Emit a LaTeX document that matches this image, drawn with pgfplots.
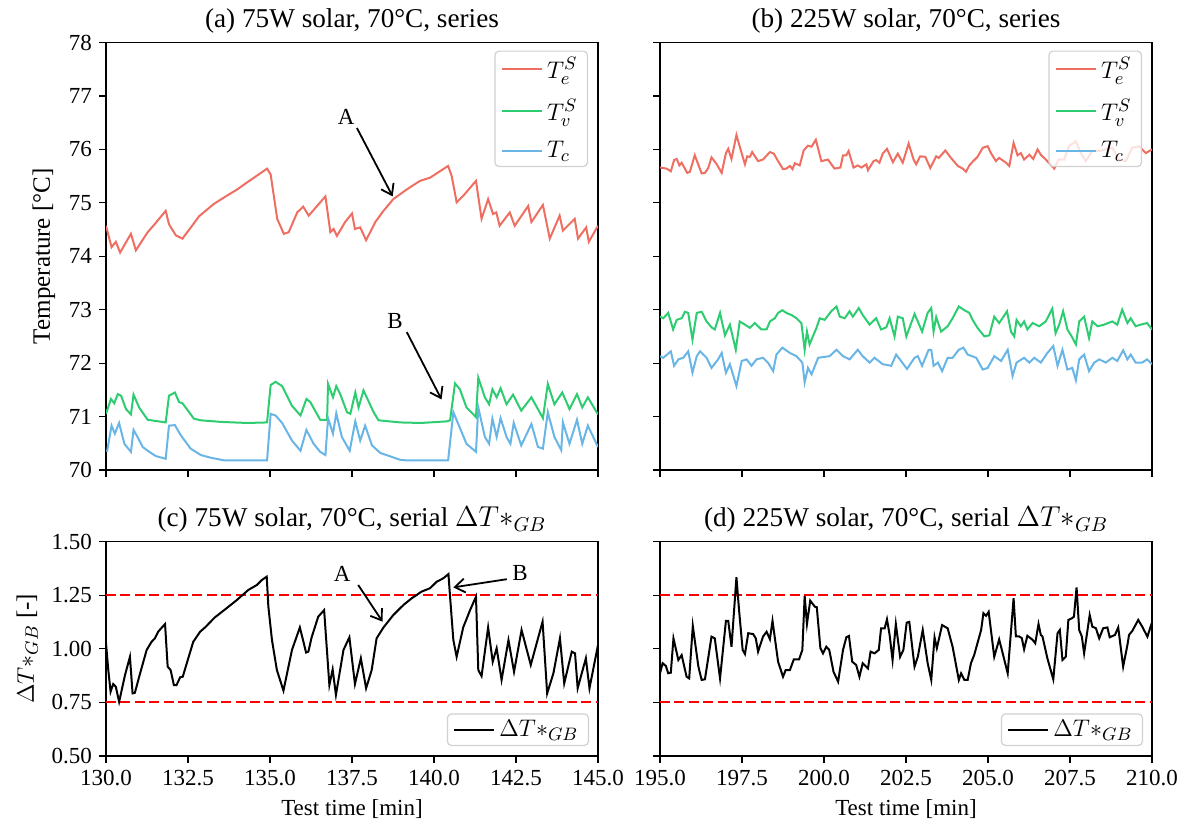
\documentclass[border=0pt]{standalone}
\usepackage{fontspec}
\setmainfont{Liberation Serif}
\usepackage{pgfplots}
\pgfplotsset{compat=1.18}
\usetikzlibrary{arrows.meta}

\definecolor{cTe}{HTML}{EE6F62}
\definecolor{cTv}{HTML}{2ECC71}
\definecolor{cTc}{HTML}{68B5E6}

\newcommand{\tfont}{\fontsize{11.5}{13}\selectfont}
\newcommand{\lfont}{\fontsize{12.5}{14}\selectfont}
\newcommand{\hfont}{\fontsize{13.6}{16}\selectfont}

\pgfplotsset{
 base/.style={scale only axis, width=246pt, tick align=outside, tick pos=left,
   major tick length=3.5pt, axis line style={line width=0.6pt},
   every tick/.style={black, line width=0.6pt},
   tick label style={font=\tfont}, label style={font=\tfont},
   every axis title/.style={at={(0.5,1)}, above, yshift=1pt, font=\hfont},
   /pgf/number format/assume math mode=true,
   legend cell align=left,
   legend style={font=\lfont, draw=black!18, rounded corners=2pt, fill=white,
     fill opacity=0.8, text opacity=1, line width=0.6pt, row sep=2pt, inner ysep=1pt},
   legend image code/.code={\draw[##1] (0pt,0pt) -- (20pt,0pt);},
   every axis plot/.append style={line width=1pt},
 },
 topax/.style={base, height=213.75pt, ymin=70, ymax=78, ytick={70,71,72,73,74,75,76,77,78},
   xticklabels={},
   legend style={at={(1,1)}, anchor=north east, xshift=-5pt, yshift=-4pt, row sep=5pt}},
 botax/.style={base, height=107.15pt, ymin=0.5, ymax=1.5, ytick={0.5,0.75,1,1.25,1.5},
   yticklabel style={/pgf/number format/fixed, /pgf/number format/fixed zerofill, /pgf/number format/precision=2},
   xticklabel style={/pgf/number format/fixed, /pgf/number format/fixed zerofill, /pgf/number format/precision=1},
   xlabel={Test time [min]},
   legend style={at={(1,0)}, anchor=south east, xshift=-4.5pt, yshift=5pt}},
 leftx/.style={xmin=130, xmax=145, xtick={130,132.5,135,137.5,140,142.5,145}},
 rightx/.style={xmin=195, xmax=210, xtick={195,197.5,200,202.5,205,207.5,210}, yticklabels={}},
}

\begin{document}
\begin{tikzpicture}
\useasboundingbox (0,0) rectangle (596.5pt,413.5pt);

% (a)
\begin{axis}[topax, leftx, at={(53pt,392.25pt)}, anchor=north west,
  ylabel={\fontsize{12.5}{14}\selectfont Temperature [°C]}, title={(a) 75W solar, 70°C, series}]
\addplot[cTe] coordinates {
(130.00,74.57) (130.17,74.17) (130.30,74.27) (130.43,74.07) (130.76,74.42) (130.91,74.11)
(131.27,74.45) (131.47,74.59) (131.82,74.85) (131.92,74.60) (132.13,74.39) (132.33,74.33)
(132.60,74.55) (132.84,74.75) (133.29,74.98) (133.65,75.12) (134.00,75.25) (134.25,75.36)
(134.51,75.47) (134.70,75.55) (134.91,75.64) (135.02,75.53) (135.22,74.70) (135.42,74.42)
(135.57,74.45) (135.83,74.82) (136.01,74.93) (136.18,74.76) (136.69,75.12) (136.84,74.45)
(136.94,74.51) (137.04,74.38) (137.29,74.64) (137.50,74.80) (137.59,74.51) (137.75,74.54)
(137.93,74.30) (138.21,74.64) (138.46,74.85) (138.76,75.07) (139.17,75.25) (139.57,75.41)
(139.88,75.47) (140.18,75.59) (140.43,75.69) (140.54,75.50) (140.69,75.01) (140.89,75.13)
(141.28,75.41) (141.45,74.70) (141.65,75.07) (141.80,74.79) (141.90,74.82) (142.00,74.57)
(142.31,74.82) (142.46,74.57) (142.87,74.94) (142.97,74.64) (143.32,74.96) (143.53,74.33)
(143.83,74.76) (143.93,74.48) (144.29,74.70) (144.39,74.33) (144.64,74.54) (144.72,74.27)
(145.00,74.57)};
\addlegendentry{$T_e^S$}
\addplot[cTv] coordinates {
(130.00,71.05) (130.15,71.33) (130.25,71.25) (130.36,71.42) (130.46,71.39) (130.61,71.14)
(130.76,71.04) (130.84,71.41) (131.01,71.17) (131.27,70.94) (131.82,70.89) (131.92,71.39)
(132.10,71.45) (132.23,71.27) (132.33,71.25) (132.68,70.96) (132.89,70.93) (133.50,70.90)
(134.30,70.88) (134.91,70.89) (135.02,71.59) (135.17,71.65) (135.37,71.57) (135.67,71.20)
(135.93,71.02) (136.11,71.33) (136.23,71.27) (136.53,70.94) (136.74,70.94) (136.77,71.61)
(136.92,71.36) (137.02,71.57) (137.14,71.42) (137.35,71.08) (137.45,71.05) (137.60,71.45)
(137.70,71.17) (137.85,71.49) (138.16,71.08) (138.31,70.93) (138.97,70.89) (139.60,70.88)
(140.39,70.91) (140.49,70.93) (140.64,71.62) (140.79,71.51) (140.99,71.17) (141.28,70.99)
(141.35,71.73) (141.55,71.36) (141.68,71.23) (141.78,71.51) (141.91,71.36) (142.03,71.53)
(142.21,71.23) (142.41,71.41) (142.66,71.11) (142.97,71.36) (143.32,70.97) (143.47,71.61)
(143.67,71.23) (143.91,71.45) (144.13,71.14) (144.36,71.42) (144.52,71.17) (144.69,71.36)
(145.00,71.04)};
\addlegendentry{$T_v^S$}
\addplot[cTc] coordinates {
(130.03,70.34) (130.17,70.83) (130.27,70.68) (130.40,70.88) (130.56,70.49) (130.76,70.34)
(130.84,70.75) (130.96,70.62) (131.12,70.43) (131.32,70.34) (131.52,70.26) (131.82,70.21)
(131.92,70.83) (132.10,70.84) (132.28,70.65) (132.58,70.40) (132.89,70.28) (133.19,70.23)
(133.60,70.18) (134.91,70.18) (135.02,71.05) (135.17,71.02) (135.37,70.88) (135.67,70.55)
(135.93,70.36) (136.11,70.75) (136.33,70.49) (136.53,70.34) (136.69,70.28) (136.77,70.97)
(136.92,70.68) (137.02,71.06) (137.19,70.62) (137.43,70.36) (137.60,70.91) (137.75,70.55)
(137.90,70.83) (138.11,70.46) (138.36,70.32) (138.97,70.19) (139.17,70.18) (140.43,70.18)
(140.59,71.08) (140.74,70.86) (140.99,70.49) (141.28,70.34) (141.35,71.17) (141.55,70.62)
(141.68,70.49) (141.78,70.96) (141.91,70.62) (142.03,70.97) (142.21,70.62) (142.33,70.49)
(142.43,70.88) (142.66,70.46) (142.97,70.86) (143.17,70.43) (143.32,70.40) (143.47,71.08)
(143.67,70.62) (143.88,70.37) (143.93,70.89) (144.13,70.49) (144.36,70.94) (144.52,70.49)
(144.69,70.83) (145.00,70.43)};
\addlegendentry{$T_c$}
\node[font=\tfont] at (axis cs:137.32,76.61) {A};
\draw[-{Straight Barb[length=5pt,width=7pt]}, line width=0.9pt] (axis cs:137.65,76.40) -- (axis cs:138.74,75.12);
\node[font=\tfont] at (axis cs:138.81,72.78) {B};
\draw[-{Straight Barb[length=5pt,width=7pt]}, line width=0.9pt] (axis cs:139.17,72.58) -- (axis cs:140.23,71.32);
\end{axis}

% (b)
\begin{axis}[topax, rightx, at={(330pt,392.25pt)}, anchor=north west,
  title={(b) 225W solar, 70°C, series}]
\addplot[cTe] coordinates {
(195.00,75.66) (195.20,75.64) (195.33,75.59) (195.43,75.80) (195.51,75.82) (195.59,75.70)
(195.66,75.75) (195.83,75.56) (195.91,75.58) (196.06,75.89) (196.27,75.55) (196.37,75.56)
(196.47,75.65) (196.57,75.85) (196.72,75.73) (196.88,75.56) (197.01,75.93) (197.08,76.01)
(197.18,75.82) (197.33,76.27) (197.46,75.99) (197.59,75.72) (197.66,75.87) (197.74,75.86)
(197.81,75.95) (197.99,75.78) (198.14,75.81) (198.35,75.95) (198.47,75.92) (198.60,75.78)
(198.75,75.63) (198.85,75.64) (198.96,75.69) (199.04,75.63) (199.11,75.74) (199.26,75.70)
(199.38,75.98) (199.51,76.07) (199.62,76.05) (199.75,76.18) (199.92,75.78) (200.12,75.81)
(200.32,75.64) (200.50,75.66) (200.58,75.89) (200.68,75.89) (200.75,75.97) (200.90,75.66)
(201.03,75.70) (201.14,75.66) (201.29,75.72) (201.34,75.61) (201.51,75.78) (201.59,75.80)
(201.69,75.75) (201.79,75.92) (201.92,76.01) (202.10,75.76) (202.25,75.92) (202.40,75.75)
(202.58,76.11) (202.73,75.81) (202.81,75.72) (202.93,75.87) (203.09,75.86) (203.24,75.65)
(203.42,75.87) (203.50,75.84) (203.70,75.98) (203.87,75.84) (204.08,75.69) (204.23,75.64)
(204.33,75.58) (204.43,75.70) (204.55,75.78) (204.68,75.86) (204.84,76.03) (204.99,76.06)
(205.09,75.93) (205.24,75.78) (205.34,75.84) (205.55,75.75) (205.65,75.69) (205.78,76.12)
(205.90,75.89) (206.00,75.93) (206.10,75.81) (206.26,75.90) (206.38,75.82) (206.51,76.00)
(206.61,75.90) (206.76,75.81) (207.02,75.64) (207.15,75.81) (207.32,75.81) (207.47,76.06)
(207.68,76.15) (207.83,75.93) (207.98,75.78) (208.18,75.97) (208.39,75.97) (208.59,76.00)
(208.79,76.03) (208.99,75.81) (209.20,75.78) (209.40,76.03) (209.60,76.06) (209.81,75.93)
(210.00,76.00)};
\addlegendentry{$T_e^S$}
\addplot[cTv] coordinates {
(195.00,72.87) (195.10,72.84) (195.25,72.94) (195.40,72.63) (195.51,72.81) (195.66,72.84)
(195.76,72.96) (195.86,72.94) (195.99,72.44) (196.12,72.94) (196.27,72.96) (196.42,72.78)
(196.57,72.67) (196.67,72.63) (196.83,72.94) (196.98,72.52) (197.13,72.72) (197.31,72.25)
(197.43,72.78) (197.59,72.72) (197.74,72.66) (197.89,72.75) (198.09,72.63) (198.25,72.63)
(198.35,72.78) (198.50,72.84) (198.60,72.94) (198.73,72.99) (198.85,72.94) (199.01,72.90)
(199.16,72.84) (199.31,72.75) (199.41,72.25) (199.48,72.59) (199.56,72.35) (199.77,72.66)
(199.87,72.84) (200.02,72.81) (200.22,72.97) (200.38,73.06) (200.48,72.87) (200.63,72.84)
(200.78,72.97) (200.88,72.87) (201.06,73.03) (201.18,72.90) (201.39,72.72) (201.59,72.84)
(201.74,72.63) (201.90,72.67) (202.00,72.84) (202.15,72.50) (202.25,72.87) (202.40,72.84)
(202.51,72.50) (202.76,72.92) (202.86,72.78) (202.99,72.59) (203.16,72.94) (203.27,73.03)
(203.34,72.59) (203.42,72.86) (203.57,72.59) (203.77,72.69) (203.92,72.84) (204.11,73.06)
(204.28,72.99) (204.43,72.94) (204.53,72.81) (204.68,72.66) (204.89,72.50) (205.04,72.52)
(205.19,72.87) (205.34,72.75) (205.58,72.97) (205.70,72.59) (205.80,72.50) (205.87,72.81)
(206.00,72.69) (206.10,72.78) (206.20,72.63) (206.36,72.75) (206.56,72.69) (206.76,72.78)
(206.96,73.02) (207.06,72.56) (207.17,72.72) (207.29,72.97) (207.42,72.63) (207.55,72.50)
(207.68,72.35) (207.78,72.78) (207.93,72.87) (208.08,72.47) (208.18,72.78) (208.34,72.69)
(208.54,72.72) (208.79,72.78) (208.94,72.72) (209.09,73.00) (209.25,72.75) (209.35,72.84)
(209.50,72.69) (209.65,72.72) (209.85,72.75) (210.00,72.63)};
\addlegendentry{$T_v^S$}
\addplot[cTc] coordinates {
(195.00,72.13) (195.10,72.10) (195.33,72.22) (195.43,71.95) (195.56,72.07) (195.71,72.10)
(195.86,72.22) (195.99,71.82) (196.12,72.13) (196.22,72.22) (196.42,72.10) (196.57,71.91)
(196.77,72.07) (196.88,72.19) (197.01,71.82) (197.13,71.98) (197.33,71.57) (197.49,72.04)
(197.64,72.07) (197.79,71.95) (197.94,72.07) (198.14,72.10) (198.29,72.01) (198.45,71.85)
(198.55,72.16) (198.73,72.29) (198.96,72.19) (199.16,72.13) (199.34,72.01) (199.41,71.64)
(199.51,71.91) (199.62,71.79) (199.82,72.10) (200.17,72.13) (200.38,72.25) (200.58,72.13)
(200.78,72.07) (201.03,72.25) (201.18,72.13) (201.39,72.01) (201.54,72.10) (201.79,71.98)
(202.05,71.95) (202.20,72.16) (202.35,72.04) (202.53,71.89) (202.76,72.10) (202.86,72.13)
(202.99,71.95) (203.19,72.25) (203.27,72.25) (203.34,71.95) (203.47,72.01) (203.60,71.85)
(203.77,72.10) (203.92,72.10) (204.11,72.25) (204.25,72.29) (204.38,72.16) (204.64,72.10)
(204.84,71.88) (204.99,71.91) (205.19,72.13) (205.40,72.04) (205.60,72.25) (205.75,71.76)
(205.87,72.01) (206.10,72.10) (206.26,72.01) (206.41,72.10) (206.61,72.01) (206.81,72.19)
(206.99,72.32) (207.12,71.95) (207.27,72.25) (207.42,71.88) (207.57,71.91) (207.68,71.68)
(207.78,72.07) (207.93,72.16) (208.08,71.85) (208.24,72.01) (208.39,72.07) (208.59,72.01)
(208.79,72.10) (208.94,72.04) (209.12,72.24) (209.25,72.07) (209.35,72.16) (209.50,72.01)
(209.70,72.01) (209.85,72.07) (210.00,71.98)};
\addlegendentry{$T_c$}
\end{axis}

% (c)
\begin{axis}[botax, leftx, at={(53pt,142.65pt)}, anchor=north west,
  ylabel={\fontsize{12.5}{14}\selectfont $\Delta T*_{GB}$ [-]}, title={(c) 75W solar, 70°C, serial $\Delta T*_{GB}$}]
\addplot[red, line width=1pt, dash pattern=on 5pt off 2.2pt, forget plot] coordinates {(130,1.25) (145,1.25)};
\addplot[red, line width=1pt, dash pattern=on 5pt off 2.2pt, forget plot] coordinates {(130,0.75) (145,0.75)};
\addplot[black] coordinates {
(130.00,1.026) (130.07,0.901) (130.14,0.800) (130.22,0.836) (130.30,0.823) (130.40,0.753)
(130.58,0.878) (130.73,0.963) (130.81,0.792) (130.88,0.795) (131.04,0.886) (131.24,0.995)
(131.39,1.033) (131.49,1.049) (131.59,1.080) (131.80,1.116) (131.88,0.917) (131.97,0.901)
(132.07,0.831) (132.15,0.831) (132.26,0.867) (132.34,0.870) (132.66,1.033) (132.87,1.080)
(133.02,1.100) (133.32,1.147) (133.68,1.190) (133.99,1.228) (134.34,1.275) (134.60,1.298)
(134.75,1.321) (134.90,1.337) (134.95,1.197) (135.06,1.041) (135.21,0.901) (135.41,0.805)
(135.67,0.995) (135.91,1.100) (136.10,0.983) (136.17,0.987) (136.27,1.054) (136.47,1.150)
(136.65,1.181) (136.81,0.831) (136.91,0.904) (137.01,0.785) (137.24,0.995) (137.42,1.054)
(137.59,0.836) (137.77,0.956) (137.93,0.816) (138.10,0.901) (138.25,1.049) (138.46,1.100)
(138.76,1.158) (139.07,1.205) (139.32,1.236) (139.62,1.267) (139.88,1.283) (140.08,1.313)
(140.28,1.329) (140.44,1.349) (140.49,1.243) (140.59,1.041) (140.69,0.963) (140.89,1.100)
(141.10,1.181) (141.28,1.243) (141.35,0.901) (141.45,0.873) (141.65,1.100) (141.79,0.940)
(141.91,1.003) (142.06,0.855) (142.27,1.041) (142.44,0.893) (142.67,1.088) (142.95,0.925)
(143.31,1.127) (143.45,0.792) (143.64,0.886) (143.84,1.049) (143.97,0.839) (144.20,0.987)
(144.30,0.979) (144.38,0.816) (144.63,0.956) (144.74,0.816) (145.00,1.018)};
\addlegendentry{$\Delta T*_{GB}$}
\node[font=\tfont] at (axis cs:137.2,1.349) {A};
\draw[-{Straight Barb[length=5pt,width=7pt]}, line width=0.9pt] (axis cs:137.69,1.298) -- (axis cs:138.43,1.127);
\node[font=\tfont] at (axis cs:142.62,1.355) {B};
\draw[-{Straight Barb[length=5pt,width=7pt]}, line width=0.9pt] (axis cs:142.22,1.325) -- (axis cs:140.59,1.287);
\end{axis}

% (d)
\begin{axis}[botax, rightx, at={(330pt,142.65pt)}, anchor=north west,
  title={(d) 225W solar, 70°C, serial $\Delta T*_{GB}$}]
\addplot[red, line width=1pt, dash pattern=on 5pt off 2.2pt, forget plot] coordinates {(195,1.25) (210,1.25)};
\addplot[red, line width=1pt, dash pattern=on 5pt off 2.2pt, forget plot] coordinates {(195,0.75) (210,0.75)};
\addplot[black] coordinates {
(195.00,0.886) (195.08,0.933) (195.18,0.920) (195.25,0.886) (195.33,0.889) (195.41,1.049)
(195.56,0.948) (195.66,0.971) (195.81,0.870) (195.89,0.862) (196.00,1.107) (196.17,0.917)
(196.27,0.855) (196.37,0.858) (196.57,1.057) (196.67,1.049) (196.83,0.862) (197.01,1.131)
(197.08,1.131) (197.18,1.010) (197.33,1.334) (197.41,1.181) (197.52,0.995) (197.59,0.976)
(197.69,1.073) (197.84,1.069) (197.92,1.049) (197.99,0.987) (198.14,1.057) (198.25,1.080)
(198.35,1.045) (198.43,1.131) (198.60,0.940) (198.75,0.870) (198.83,0.901) (198.96,0.901)
(199.08,0.951) (199.24,0.951) (199.34,0.995) (199.41,1.247) (199.48,1.116) (199.58,1.225)
(199.72,1.197) (199.78,1.194) (199.89,1.003) (199.97,0.979) (200.07,1.010) (200.16,0.995)
(200.29,0.893) (200.43,0.847) (200.58,0.995) (200.68,1.054) (200.76,1.060) (200.86,0.940)
(200.98,0.925) (201.08,0.870) (201.18,0.933) (201.34,0.909) (201.42,0.987) (201.54,0.979)
(201.67,0.995) (201.74,1.096) (201.85,1.096) (201.92,1.138) (202.00,1.065) (202.09,0.948)
(202.19,1.116) (202.32,0.963) (202.42,0.995) (202.52,1.122) (202.60,1.126) (202.76,0.917)
(202.86,0.963) (203.01,1.088) (203.16,0.933) (203.27,0.855) (203.37,1.054) (203.44,1.003)
(203.60,1.111) (203.77,1.096) (203.92,1.010) (204.11,0.855) (204.18,0.886) (204.28,0.855)
(204.38,0.855) (204.48,0.933) (204.58,0.972) (204.79,1.088) (204.86,1.166) (204.94,1.154)
(205.02,1.173) (205.19,0.963) (205.34,1.044) (205.46,0.972) (205.60,0.886) (205.78,1.236)
(205.85,1.058) (205.95,1.058) (206.03,1.050) (206.10,0.998) (206.20,1.061) (206.36,1.042)
(206.44,1.026) (206.54,1.116) (206.61,1.065) (206.66,1.058) (206.81,0.956) (206.99,0.858)
(207.12,1.073) (207.19,1.088) (207.27,0.948) (207.37,0.963) (207.45,1.135) (207.55,1.142)
(207.62,1.150) (207.70,1.287) (207.78,1.088) (207.86,1.058) (207.93,0.979) (208.10,1.158)
(208.18,1.104) (208.29,1.096) (208.39,1.049) (208.51,1.096) (208.64,1.100) (208.71,1.054)
(208.87,1.065) (208.97,1.100) (209.12,0.917) (209.25,1.018) (209.30,1.065) (209.40,1.084)
(209.58,1.135) (209.70,1.104) (209.86,1.057) (209.99,1.119)};
\addlegendentry{$\Delta T*_{GB}$}
\end{axis}
\end{tikzpicture}
\end{document}
